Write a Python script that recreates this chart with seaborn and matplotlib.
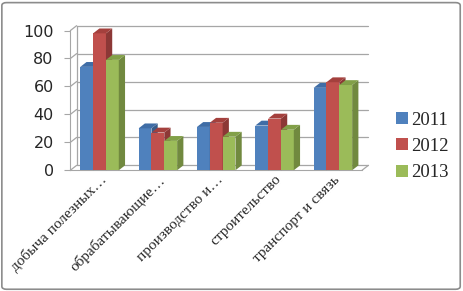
import matplotlib
matplotlib.use("Agg")
import matplotlib.pyplot as plt
import matplotlib.transforms as mtransforms
from matplotlib.patches import Polygon, FancyBboxPatch
import seaborn as sns
import pandas as pd

categories = ["добыча полезных…", "обрабатывающие…", "производство и…", "строительство", "транспорт и связь"]
years = ["2011", "2012", "2013"]
v2011 = [74, 30, 31, 32, 59]
v2012 = [98, 27, 34, 37, 63]
v2013 = [79, 21, 24, 29, 61]
yticks = [0, 20, 40, 60, 80, 100]

front = ["#4F81BD", "#C0504D", "#9BBB59"]
side = ["#385D8A", "#8C3836", "#71893F"]
top = ["#3F6DA6", "#A4403D", "#82A048"]

rows = []
for c, a, b, d in zip(categories, v2011, v2012, v2013):
    rows += [(c, "2011", a), (c, "2012", b), (c, "2013", d)]
df = pd.DataFrame(rows, columns=["cat", "year", "val"])

sns.set_style("white")
fig = plt.figure(figsize=(4.63, 2.91), dpi=100)
ax = fig.add_axes([0.152, 0.415, 0.63, 0.48])

sns.barplot(data=df, x="cat", y="val", hue="year", palette=front, ax=ax,
            width=0.66, saturation=1, edgecolor="none", legend=True)

ax.set_ylim(0, 100)
ax.set_xlim(-0.5, len(categories) - 0.5)
ax.set_yticks(yticks)
ax.set_yticklabels([str(t) for t in yticks], fontsize=11.5, family="DejaVu Sans")
ax.set_xlabel("")
ax.set_ylabel("")

dx, dy = 4.5, 3.5
off = mtransforms.ScaledTranslation(dx / 72, dy / 72, fig.dpi_scale_trans)
n = len(categories)
grid_c = "#A6A6A6"

for t in yticks:
    ax.plot([-0.5, n - 0.5], [t, t], color=grid_c, lw=0.9,
            transform=ax.transData + off, zorder=1, clip_on=False)
    ax.annotate("", xy=(-0.5, t), xycoords=ax.transData + off,
                xytext=(-0.5, t), textcoords="data",
                arrowprops=dict(arrowstyle="-", color=grid_c, lw=0.9, shrinkA=0, shrinkB=0),
                zorder=1)
ax.plot([-0.5, -0.5], [0, 100], color=grid_c, lw=0.9, transform=ax.transData + off,
        zorder=1, clip_on=False)
ax.annotate("", xy=(n - 0.5, 0), xycoords=ax.transData + off,
            xytext=(n - 0.5, 0), textcoords="data",
            arrowprops=dict(arrowstyle="-", color=grid_c, lw=0.9, shrinkA=0, shrinkB=0))

# 3d faces, ordered by x so each front face covers the previous side face
bars = [p for p in ax.patches if p.get_height() > 0]
colmap = {}
for i, p in enumerate(bars):
    colmap[id(p)] = i // n
bars_sorted = sorted(bars, key=lambda p: p.get_x())
ox, oy = dx * fig.dpi / 72, dy * fig.dpi / 72
ident = mtransforms.IdentityTransform()
for k, p in enumerate(bars_sorted):
    hue_idx = colmap[id(p)]
    base_z = 3 + 3 * k
    p.set_zorder(base_z)
    x0, w, h = p.get_x(), p.get_width(), p.get_height()
    pts = ax.transData.transform([(x0, 0), (x0 + w, 0), (x0 + w, h), (x0, h)])
    (xl, yb), (xr, _), (_, yt), _ = pts
    side_pts = [(xr, yb), (xr + ox, yb + oy), (xr + ox, yt + oy), (xr, yt)]
    top_pts = [(xl, yt), (xr, yt), (xr + ox, yt + oy), (xl + ox, yt + oy)]
    ax.add_artist(Polygon(side_pts, closed=True, fc=side[hue_idx], ec="none",
                          transform=ident, zorder=base_z + 1, clip_on=False))
    ax.add_artist(Polygon(top_pts, closed=True, fc=top[hue_idx], ec="none",
                          transform=ident, zorder=base_z + 1, clip_on=False))

for s in ["top", "right"]:
    ax.spines[s].set_visible(False)
ax.spines["left"].set_color(grid_c)
ax.spines["bottom"].set_color(grid_c)
ax.spines["left"].set_zorder(1)
ax.tick_params(axis="y", length=4, color=grid_c, pad=8, left=True, direction="out")
ax.tick_params(axis="x", length=0, pad=2)
ax.set_xticks(range(n))
ax.set_xticklabels(categories, rotation=45, ha="right", rotation_mode="anchor",
                   fontsize=11, family="Liberation Serif")
ax.set_xticks([i - 0.5 for i in range(n + 1)], minor=True)
ax.tick_params(axis="x", which="minor", length=4, color=grid_c, direction="out")

leg = ax.legend(loc="center left", bbox_to_anchor=(1.06, 0.17), frameon=False,
                prop={"family": "Liberation Serif", "size": 13.5},
                handlelength=0.6, handleheight=0.6, handletextpad=0.2, labelspacing=0.5)

fig.add_artist(FancyBboxPatch((0.004, 0.006), 0.99, 0.985, boxstyle="round,pad=0,rounding_size=0.01",
                              transform=fig.transFigure, fc="none", ec="#8C8C8C", lw=1.2))

fig.savefig("out.png", dpi=100)
